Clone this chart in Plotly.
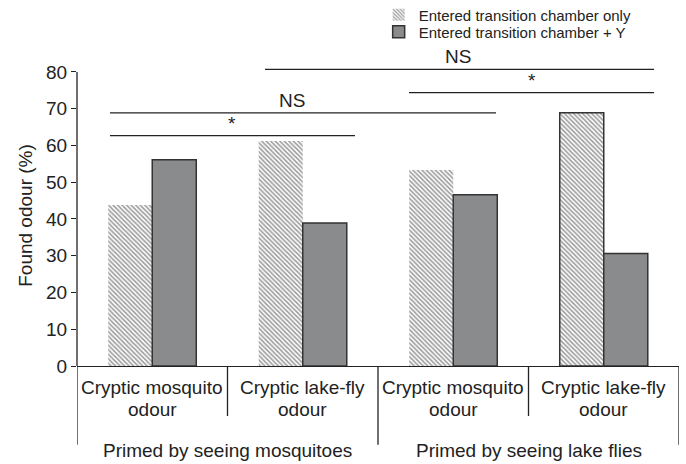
import plotly.graph_objects as go

# ---- data ----
categories = ["Cryptic mosquito<br>odour", "Cryptic lake-fly<br>odour",
              "Cryptic mosquito<br>odour", "Cryptic lake-fly<br>odour"]
groups = ["Primed by seeing mosquitoes", "Primed by seeing lake flies"]
series_names = ["Entered transition chamber only", "Entered transition chamber + Y"]
only_vals = [43.8, 61.2, 53.3, 68.9]
plus_y_vals = [56.1, 38.9, 46.6, 30.6]
y_ticks = [0, 10, 20, 30, 40, 50, 60, 70, 80]

# significance brackets: (x start, x end, y level, label, label x)
sig_x0 = [0.749, -0.281, 1.706, -0.281]
sig_x1 = [3.334, 2.284, 3.334, 1.347]
sig_y = [80.7, 68.9, 74.4, 62.7]
sig_label = ["NS", "NS", "*", "*"]
sig_label_x = [2.03, 0.93, 2.52, 0.53]

FONT = "Liberation Sans, Arial, Helvetica, sans-serif"
xpos = list(range(len(categories)))

fig = go.Figure()
fig.add_trace(go.Bar(
    x=xpos, y=only_vals, name=series_names[0], legend="legend",
    marker=dict(color="white",
                pattern=dict(shape="\\", size=3.2, solidity=0.5, fgcolor="#3a3a3a", bgcolor="white"),
                line=dict(color="#333", width=[0, 0, 0, 1.5])),
))
fig.add_trace(go.Bar(
    x=xpos, y=plus_y_vals, name=series_names[1], legend="legend2",
    marker=dict(color="#8a8b8d", line=dict(color="#333", width=1.5)),
))

shapes = []
# y axis line from 0 to 80
shapes.append(dict(type="line", xref="paper", yref="y", x0=0, x1=0, y0=0, y1=y_ticks[-1],
                   line=dict(color="#222", width=1.3)))
# category separators below axis
n = len(categories)
for i in range(n + 1):
    long = (i % 2 == 0)
    shapes.append(dict(type="line", xref="x", yref="paper", x0=i - 0.5, x1=i - 0.5,
                       y0=0, y1=-0.262 if long else -0.166,
                       line=dict(color="#222", width=1.3)))
# significance lines
for x0, x1, yv in zip(sig_x0, sig_x1, sig_y):
    shapes.append(dict(type="line", xref="x", yref="y", x0=x0, x1=x1, y0=yv, y1=yv,
                       line=dict(color="#222", width=1.3)))

annotations = []
line_y = [-0.0711, -0.1442]
for i, c in enumerate(categories):
    for ly, part in zip(line_y, c.split("<br>")):
        annotations.append(dict(x=i, y=ly, xref="x", yref="paper", text=part, showarrow=False,
                                yanchor="middle", font=dict(size=19, color="#222", family=FONT)))
for g, name in enumerate(groups):
    annotations.append(dict(x=2 * g + 0.5, y=-0.2804, xref="x", yref="paper", text=name,
                            showarrow=False, yanchor="middle",
                            font=dict(size=19, color="#222", family=FONT)))
for lx, yv, lab in zip(sig_label_x, sig_y, sig_label):
    annotations.append(dict(x=lx, y=yv, xref="x", yref="y", text=lab, showarrow=False,
                            yanchor="bottom", yshift=0,
                            font=dict(size=19, color="#222", family=FONT)))

leg_common = dict(xref="container", yref="container", xanchor="left", yanchor="middle",
                  font=dict(size=15, family=FONT, color="#222"),
                  bgcolor="rgba(0,0,0,0)", itemwidth=30)

fig.update_layout(
    width=686, height=464,
    margin=dict(l=77, r=7, t=65, b=98, autoexpand=False),
    paper_bgcolor="white", plot_bgcolor="white",
    barmode="group", bargap=0.415, bargroupgap=0,
    font=dict(family=FONT, size=19, color="#222"),
    showlegend=True,
    legend=dict(x=0.552, y=1 - 15 / 464, **leg_common),
    legend2=dict(x=0.552, y=1 - 32 / 464, **leg_common),
    xaxis=dict(range=[-0.5, 3.5], showticklabels=False, ticks="", showgrid=False,
               zeroline=False, showline=True, linecolor="#222", linewidth=1.3,
               automargin=False),
    yaxis=dict(range=[0, 81.9], tickvals=y_ticks, ticks="outside", ticklen=5,
               tickcolor="#222", tickwidth=1.3, showgrid=False, zeroline=False,
               showline=False, tickfont=dict(size=19, family=FONT, color="#222"),
               automargin=False,
               title=dict(text="Found odour (%)", font=dict(size=19, family=FONT, color="#222"),
                          standoff=8)),
    shapes=shapes, annotations=annotations,
)

fig.write_html("out.html", config={"displayModeBar": False},
               post_script="document.body.style.margin='0';document.body.style.padding='0';")
